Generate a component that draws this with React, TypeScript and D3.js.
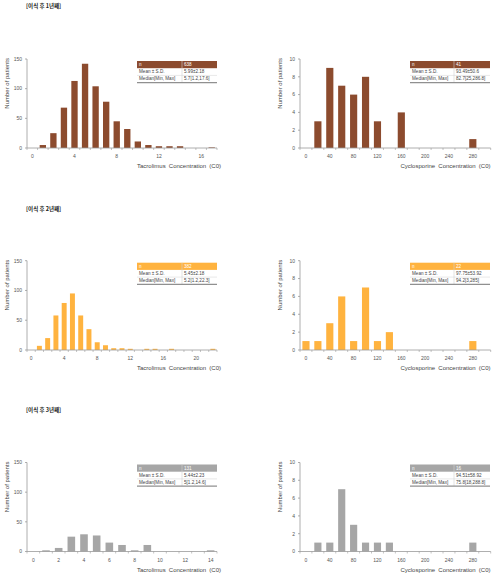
import React from "react";
import * as d3 from "d3";

const W = 503;
const H = 579;

const sectionTitles = ["[이식 후 1년째]", "[이식 후 2년째]", "[이식 후 3년째]"];

// Tacrolimus bins (C0 integer bins)
const tac1Bins = [0, 1, 2, 3, 4, 5, 6, 7, 8, 9, 10, 11, 12, 13, 14, 15, 16, 17];
const tac1Counts = [0, 5, 25, 68, 113, 142, 104, 78, 45, 32, 11, 5, 3, 3, 3, 0, 0, 1];
const tac2Bins = [0, 1, 2, 3, 4, 5, 6, 7, 8, 9, 10, 11, 12, 13, 14, 15, 16, 17, 18, 19, 20, 21, 22];
const tac2Counts = [0, 7, 20, 58, 79, 95, 58, 35, 13, 8, 3, 3, 2, 0, 2, 2, 0, 2, 0, 0, 0, 0, 2];
const tac3Bins = [0, 1, 2, 3, 4, 5, 6, 7, 8, 9, 10, 11, 12, 13, 14];
const tac3Counts = [0, 2, 6, 25, 29, 27, 15, 11, 2, 11, 0, 0, 0, 0, 2];

// Cyclosporine bins (width 20)
const cyc1Bins = [20, 40, 60, 80, 100, 120, 160, 280];
const cyc1Counts = [3, 9, 7, 6, 8, 3, 4, 1];
const cyc2Bins = [0, 20, 40, 60, 80, 100, 120, 140, 280];
const cyc2Counts = [1, 1, 3, 6, 1, 7, 1, 2, 1];
const cyc3Bins = [20, 40, 60, 80, 100, 120, 140, 280];
const cyc3Counts = [1, 1, 7, 3, 1, 1, 1, 1];

const tac1Ticks = [0, 4, 8, 12, 16];
const tac2Ticks = [0, 4, 8, 12, 16, 20];
const tac3Ticks = [0, 2, 4, 6, 8, 10, 12, 14];
const cycTicks = [0, 40, 80, 120, 160, 200, 240, 280];
const tacYTicks = [0, 50, 100, 150];
const cycYTicks = [0, 2, 4, 6, 8, 10];

const statLabels = ["n", "Mean ± S.D.", "Median[Min, Max]"];
const tac1Stats = ["638", "5.99±2.18", "5.7[1.2,17.6]"];
const cyc1Stats = ["41", "93.49±50.6", "82.7[25,286.8]"];
const tac2Stats = ["382", "5.45±2.18", "5.2[1.2,22.3]"];
const cyc2Stats = ["22", "97.75±53.92", "94.2[3,285]"];
const tac3Stats = ["131", "5.44±2.23", "5[1.2,14.6]"];
const cyc3Stats = ["16", "94.51±58.92", "75.8[18,288.8]"];

const BROWN = "#8c4b2e";
const ORANGE = "#ffb33f";
const GRAY = "#a6a6a6";

const FONT = "'Liberation Sans', Arial, sans-serif";

type PanelProps = {
  left: number;
  right: number;
  top: number;
  bottom: number;
  bins: number[];
  counts: number[];
  binWidth: number;
  xMin: number;
  xMax: number;
  xTicks: number[];
  yMax: number;
  yTicks: number[];
  color: string;
  xLabel: string;
  labelEnd: number;
  stats: string[];
  tableX0: number;
  tableDiv: number;
  tableX1: number;
};

function Panel(p: PanelProps) {
  const x = d3.scaleLinear().domain([p.xMin - p.binWidth / 2, p.xMax + p.binWidth / 2]).range([p.left, p.right]);
  const y = d3.scaleLinear().domain([0, p.yMax]).range([p.bottom, p.top]);
  const bw = (x(p.binWidth) - x(0)) * 0.6;
  const edges = d3.range(p.xMin - p.binWidth / 2, p.xMax + p.binWidth, p.binWidth);
  const rowH = 7.2;
  const ty0 = p.top + 2;
  return (
    <g>
      {/* bars */}
      {p.bins.map((b, i) =>
        p.counts[i] > 0 ? (
          <rect key={i} x={x(b) - bw / 2} y={y(p.counts[i])} width={bw} height={p.bottom - y(p.counts[i])} fill={p.color} />
        ) : null
      )}
      {/* y axis */}
      <line x1={p.left} x2={p.left} y1={p.top} y2={p.bottom} stroke="#9a9a9a" strokeWidth={0.8} />
      {p.yTicks.map((t) => (
        <g key={t}>
          <line x1={p.left - 2} x2={p.left} y1={y(t)} y2={y(t)} stroke="#9a9a9a" strokeWidth={0.8} />
          <text x={p.left - 5} y={y(t) + 1.8} fontSize={5} textAnchor="end" fill="#555" fontFamily={FONT}>
            {t}
          </text>
        </g>
      ))}
      {/* x axis */}
      <line x1={p.left} x2={p.right} y1={p.bottom} y2={p.bottom} stroke="#9a9a9a" strokeWidth={0.8} />
      {edges.map((e, i) => (
        <line key={i} x1={x(e)} x2={x(e)} y1={p.bottom} y2={p.bottom + 2} stroke="#9a9a9a" strokeWidth={0.6} />
      ))}
      {p.xTicks.map((t) => (
        <text key={t} x={x(t)} y={p.bottom + 10} fontSize={5} textAnchor="middle" fill="#555" fontFamily={FONT}>
          {t}
        </text>
      ))}
      <text x={p.labelEnd} y={p.bottom + 20} fontSize={6} textAnchor="end" fill="#444" fontFamily={FONT} wordSpacing={1.5}>
        {p.xLabel}
      </text>
      <text
        transform={`translate(${p.left - 18},${p.top - 1}) rotate(-90)`}
        fontSize={6}
        textAnchor="end"
        fill="#444"
        fontFamily={FONT}
      >
        Number of patients
      </text>
      {/* stats table */}
      <rect x={p.tableX0} y={ty0} width={p.tableX1 - p.tableX0} height={rowH} fill={p.color} />
      <line x1={p.tableDiv} x2={p.tableDiv} y1={ty0} y2={ty0 + rowH * 3} stroke="#d0d0d0" strokeWidth={0.6} />
      <line x1={p.tableX0} x2={p.tableX1} y1={ty0 + rowH * 2} y2={ty0 + rowH * 2} stroke="#d0d0d0" strokeWidth={0.5} />
      <line x1={p.tableX0} x2={p.tableX1} y1={ty0 + rowH * 3} y2={ty0 + rowH * 3} stroke="#909090" strokeWidth={1.2} />
      {statLabels.map((l, i) => (
        <g key={l}>
          <text x={p.tableX0 + 2} y={ty0 + rowH * i + 5} fontSize={4.6} fill={i === 0 ? "#fff" : "#444"} fontFamily={FONT}>
            {l}
          </text>
          <text x={p.tableDiv + 2} y={ty0 + rowH * i + 5} fontSize={4.6} fill={i === 0 ? "#fff" : "#444"} fontFamily={FONT}>
            {p.stats[i]}
          </text>
        </g>
      ))}
    </g>
  );
}

export default function App() {
  const rows = [
    { top: 59, bottom: 148, title: 6 },
    { top: 260.7, bottom: 350, title: 209 },
    { top: 462.5, bottom: 551.5, title: 410 },
  ];
  const tacData = [
    { bins: tac1Bins, counts: tac1Counts, ticks: tac1Ticks, stats: tac1Stats, color: BROWN },
    { bins: tac2Bins, counts: tac2Counts, ticks: tac2Ticks, stats: tac2Stats, color: ORANGE },
    { bins: tac3Bins, counts: tac3Counts, ticks: tac3Ticks, stats: tac3Stats, color: GRAY },
  ];
  const cycData = [
    { bins: cyc1Bins, counts: cyc1Counts, stats: cyc1Stats, color: BROWN },
    { bins: cyc2Bins, counts: cyc2Counts, stats: cyc2Stats, color: ORANGE },
    { bins: cyc3Bins, counts: cyc3Counts, stats: cyc3Stats, color: GRAY },
  ];
  return (
    <svg width={W} height={H} style={{ position: "absolute", left: 0, top: 0, background: "#fff" }}>
      <rect width={W} height={H} fill="#fff" />
      {rows.map((r, i) => (
        <g key={i}>
          <text x={26} y={r.title + 2} fontSize={5.5} fontWeight="bold" fill="#222" fontFamily="'Noto Sans CJK KR', sans-serif">
            {sectionTitles[i]}
          </text>
          <Panel
            left={27}
            right={217}
            top={r.top}
            bottom={r.bottom}
            bins={tacData[i].bins}
            counts={tacData[i].counts}
            binWidth={1}
            xMin={0}
            xMax={tacData[i].bins[tacData[i].bins.length - 1]}
            xTicks={tacData[i].ticks}
            yMax={150}
            yTicks={tacYTicks}
            color={tacData[i].color}
            xLabel="Tacrolimus Concentration (C0)"
            labelEnd={221}
            stats={tacData[i].stats}
            tableX0={137}
            tableDiv={182}
            tableX1={217}
          />
          <Panel
            left={300}
            right={490.7}
            top={r.top}
            bottom={r.bottom}
            bins={cycData[i].bins}
            counts={cycData[i].counts}
            binWidth={20}
            xMin={0}
            xMax={300}
            xTicks={cycTicks}
            yMax={10}
            yTicks={cycYTicks}
            color={cycData[i].color}
            xLabel="Cyclosporine Concentration (C0)"
            labelEnd={490.5}
            stats={cycData[i].stats}
            tableX0={410}
            tableDiv={454}
            tableX1={490}
          />
        </g>
      ))}
    </svg>
  );
}
